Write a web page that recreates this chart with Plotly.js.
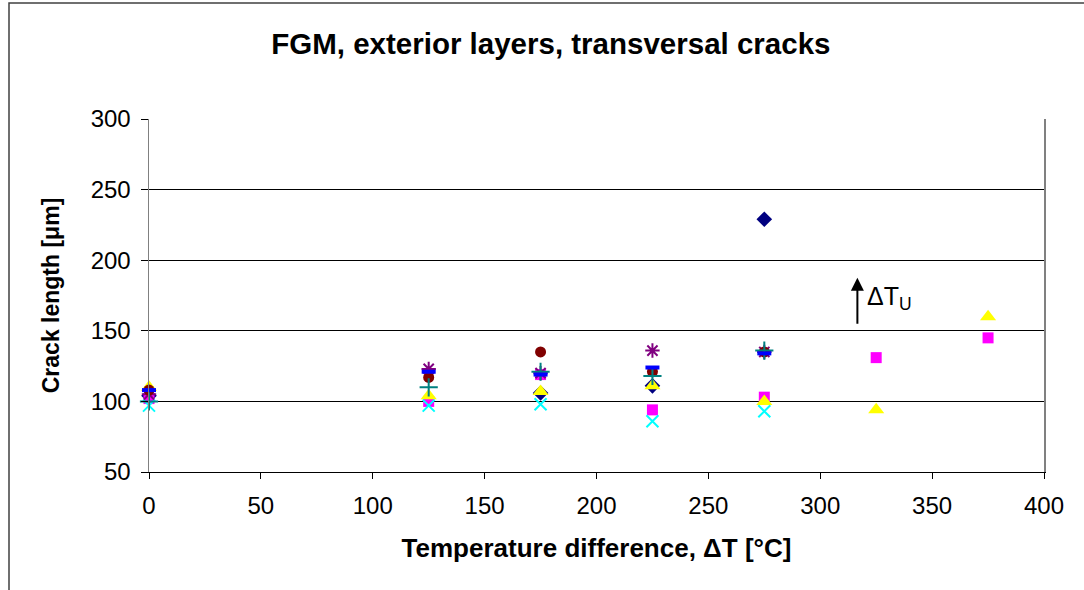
<!DOCTYPE html>
<html>
<head>
<meta charset="utf-8">
<script src="https://cdn.plot.ly/plotly-3.0.1.min.js"></script>
<style>
  html, body { margin: 0; padding: 0; background: #fff; }
  #chart { width: 1084px; height: 590px; }
</style>
</head>
<body>
<div id="chart"></div>
<script>
// Data
const seriesNames = ["Series 1", "Series 2", "Series 3", "Series 4", "Series 5", "Series 6", "Series 7", "Series 8"];

const x1 = [0, 175, 225, 275];
const y1 = [104, 106, 111, 229];

const x2 = [0, 125, 175, 225, 275, 325, 375];
const y2 = [102, 100, 119, 94, 103, 131, 145];

const x3 = [0, 125, 175, 225, 275, 325, 375];
const y3 = [110, 104, 107, 111, 100, 94, 160];

const x4 = [0, 125, 175, 225, 275];
const y4 = [97, 97, 98, 86, 93];

const x5 = [0, 125, 175, 225, 275];
const y5 = [105, 123, 120, 136, 135];

const x6 = [0, 125, 175, 225, 275];
const y6 = [108, 117, 135, 121, 135];

const x7 = [0, 125, 175, 225, 275];
const y7 = [100, 110, 121, 118, 136];

const x8 = [0, 125, 175, 225, 275];
const y8 = [108, 121, 119, 124, 134];

const xTicks = [0, 50, 100, 150, 200, 250, 300, 350, 400];
const yTicks = [50, 100, 150, 200, 250, 300];

const titleText = "FGM, exterior layers, transversal cracks";
const xTitle = "Temperature difference, ΔT [°C]";
const yTitle = "Crack length [μm]";
const arrowLabel = "ΔT<sub>U</sub>";
const arrowX = 316.6, arrowHeadY = 187.5, arrowTailY = 154;
const labelX = 320, labelY = 173;

function tr(x, y, name, marker) {
  return { x: x, y: y, name: name, type: "scatter", mode: "markers", marker: marker, showlegend: false, cliponaxis: false };
}

const traces = [
  tr(x1, y1, seriesNames[0], { symbol: "diamond", color: "#000080", size: 12 }),
  tr(x2, y2, seriesNames[1], { symbol: "square", color: "#FF00FF", size: 11 }),
  tr(x3, y3, seriesNames[2], { symbol: "triangle-up", color: "#FFFF00", size: 14 }),
  tr(x4, y4, seriesNames[3], { symbol: "x-thin-open", color: "#00FFFF", size: 12, line: { color: "#00FFFF", width: 2 } }),
  tr(x5, y5, seriesNames[4], { symbol: "asterisk-open", color: "#800080", size: 12, line: { color: "#800080", width: 2 } }),
  tr(x6, y6, seriesNames[5], { symbol: "circle", color: "#800000", size: 11 }),
  tr(x7, y7, seriesNames[6], { symbol: "cross-thin-open", color: "#008080", size: 13, line: { color: "#008080", width: 2 } }),
  tr(x8, y8, seriesNames[7], { symbol: "line-ew-open", color: "#0000FF", size: 10, line: { color: "#0000FF", width: 4 } })
];

const W = 1084, H = 590, L = 149, R = 40, T = 119, B = 118;
const pw = W - L - R, ph = H - T - B;
function px2paperX(p) { return (p - L) / pw; }
function px2paperY(p) { return (H - B - p) / ph; }

const layout = {
  width: W, height: H,
  margin: { l: L, r: R, t: T, b: B, pad: 0 },
  paper_bgcolor: "#ffffff",
  plot_bgcolor: "#ffffff",
  font: { family: "Liberation Sans, Arial, sans-serif", color: "#000" },
  title: {
    text: "<b>" + titleText + "</b>",
    font: { size: 29.5, family: "Liberation Sans, Arial, sans-serif", color: "#000" },
    x: 0.449, xanchor: "center", xref: "paper",
    y: 1 - 44 / H, yanchor: "middle", yref: "container"
  },
  xaxis: {
    range: [0, 400],
    tickvals: xTicks,
    ticktext: xTicks.map(String),
    showgrid: false,
    zeroline: false,
    showline: true, linecolor: "#000", linewidth: 1,
    ticks: "outside", ticklen: 6, tickcolor: "#000",
    ticklabelstandoff: 6,
    tickfont: { size: 24 },
    title: { text: "<b>" + xTitle + "</b>", font: { size: 26 }, standoff: 21 }
  },
  yaxis: {
    range: [50, 300],
    tickvals: yTicks,
    ticktext: yTicks.map(String),
    showgrid: true, gridcolor: "#000", gridwidth: 1,
    zeroline: false,
    showline: true, linecolor: "#808080", linewidth: 1.5, mirror: true,
    ticks: "outside", ticklen: 7, tickcolor: "#000",
    ticklabelstandoff: 5,
    tickfont: { size: 24 },
    title: { text: "<b>" + yTitle + "</b>", font: { size: 23 }, standoff: 24 }
  },
  annotations: [
    {
      x: arrowX, y: arrowHeadY, ax: arrowX, ay: arrowTailY,
      xref: "x", yref: "y", axref: "x", ayref: "y",
      text: "", showarrow: true, arrowhead: 2, arrowsize: 1.3, arrowwidth: 2, arrowcolor: "#000"
    },
    {
      x: labelX, y: labelY, xref: "x", yref: "y",
      text: arrowLabel, showarrow: false, xanchor: "left", yanchor: "middle",
      font: { size: 25, color: "#000" }
    }
  ],
  shapes: [
    {
      type: "rect", xref: "paper", yref: "paper",
      x0: px2paperX(9), x1: px2paperX(1100),
      y0: px2paperY(620), y1: px2paperY(3),
      line: { color: "#404040", width: 1.5 }, fillcolor: "rgba(0,0,0,0)", layer: "below"
    }
  ]
};

Plotly.newPlot("chart", traces, layout, { displayModeBar: false, staticPlot: true });
</script>
</body>
</html>
